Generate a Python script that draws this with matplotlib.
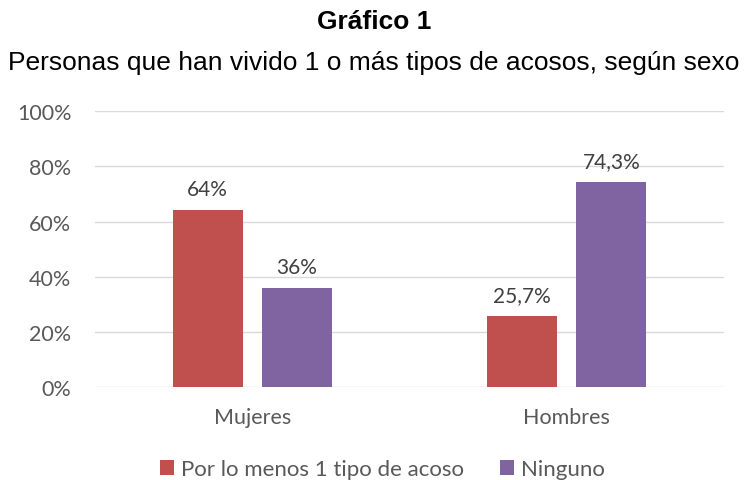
import matplotlib.pyplot as plt
import numpy as np

categorias = ['Mujeres', 'Hombres']
series = ['Por lo menos 1 tipo de acoso', 'Ninguno']
acoso = [64, 25.7]
ninguno = [36, 74.3]
etiquetas_acoso = ['64%', '25,7%']
etiquetas_ninguno = ['36%', '74,3%']
ticks_y = [0, 20, 40, 60, 80, 100]
colores = ['#C0504D', '#8064A2']

plt.rcParams['font.family'] = ['Lato', 'DejaVu Sans']

fig = plt.figure(figsize=(7.48, 4.81), dpi=100)
ax = fig.add_axes([0.127, 0.193, 0.841, 0.574])

x = np.arange(len(categorias))
w = 0.223
off = 0.1417
b1 = ax.bar(x - off, acoso, w, color=colores[0], label=series[0], zorder=3)
b2 = ax.bar(x + off, ninguno, w, color=colores[1], label=series[1], zorder=3)

for bars, labs in ((b1, etiquetas_acoso), (b2, etiquetas_ninguno)):
    for r, t in zip(bars, labs):
        ax.annotate(t, (r.get_x() + r.get_width() / 2, r.get_height()),
                    xytext=(0, 8), textcoords='offset points', ha='center', va='bottom',
                    fontsize=15, color='#404040')

ax.set_xlim(-0.5, 1.5)
ax.set_ylim(0, 100)
ax.set_yticks(ticks_y)
ax.set_yticklabels([f'{t}%' for t in ticks_y])
ax.set_xticks(x)
ax.set_xticklabels(categorias)
ax.tick_params(axis='both', length=0, labelsize=15.5, labelcolor='#595959')
ax.tick_params(axis='y', pad=17)
ax.tick_params(axis='x', pad=14)
ax.grid(axis='y', color='#D9D9D9', linewidth=1, zorder=0)
for s in ax.spines.values():
    s.set_visible(False)

fig.text(0.5, 0.955, 'Gráfico 1', ha='center', va='center', fontsize=19,
         fontweight='bold', family='Liberation Sans')
fig.text(0.5, 0.868, 'Personas que han vivido 1 o más tipos de acosos, según sexo',
         ha='center', va='center', fontsize=19, family='Liberation Sans')

fig.legend(loc='center', bbox_to_anchor=(0.511, 0.022), ncol=2, frameon=False,
           fontsize=16, labelcolor='#595959', handlelength=0.65, handleheight=0.65,
           handletextpad=0.3, columnspacing=1.6)

fig.savefig('out.png', dpi=100)
